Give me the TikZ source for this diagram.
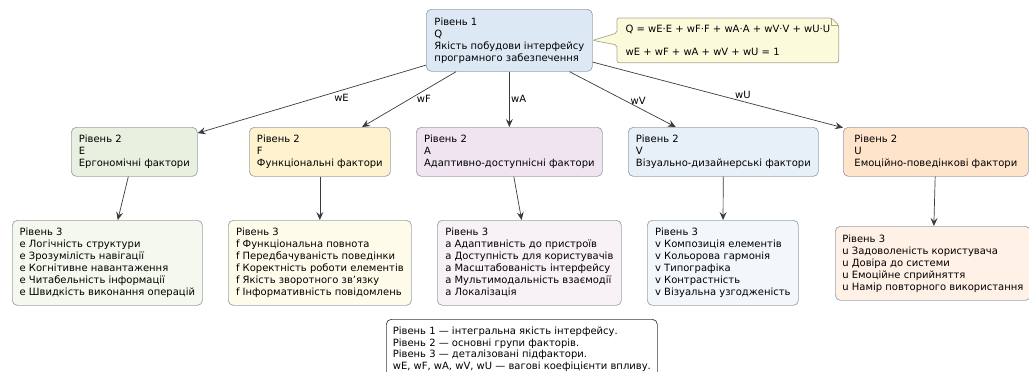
\documentclass[tikz,border=0pt]{standalone}
\usepackage{fontspec}
\setmainfont{DejaVu Sans}
\usetikzlibrary{arrows.meta,calc,backgrounds}

\definecolor{boxline}{HTML}{9AA2AA}
\definecolor{arrowline}{HTML}{3A3A3A}
\definecolor{noteline}{HTML}{A8A88A}
\definecolor{notefill}{HTML}{FBFBDC}
\definecolor{rootfill}{HTML}{DDE8F5}
\definecolor{efill}{HTML}{E8F1E0}
\definecolor{ffill}{HTML}{FEF3CE}
\definecolor{afill}{HTML}{F0E4F0}
\definecolor{vfill}{HTML}{E7EFF8}
\definecolor{ufill}{HTML}{FFE4CC}
\definecolor{esubfill}{HTML}{F4F8EF}
\definecolor{fsubfill}{HTML}{FFFBEB}
\definecolor{asubfill}{HTML}{F8F1F6}
\definecolor{vsubfill}{HTML}{F2F7FC}
\definecolor{usubfill}{HTML}{FFF1E6}

\tikzset{
  box/.style={draw=boxline, line width=0.7pt, rounded corners=5pt, align=left,
    anchor=north west, inner xsep=7pt, inner ysep=0pt, font=\fontsize{10}{12}\selectfont},
  flow/.style={draw=arrowline, line width=0.7pt, -{Stealth[length=8pt,width=7pt,inset=3pt]}},
  wlabel/.style={font=\fontsize{10}{12}\selectfont, inner sep=1.5pt}
}

\begin{document}
\begin{tikzpicture}[x=1pt,y=-1pt]
  \clip (0,0) rectangle (1029,372);

  \node[box, fill=rootfill, minimum width=166pt, minimum height=62pt] (root) at (426,9)
    {Рівень 1\\Q\\Якість побудови інтерфейсу\\програмного забезпечення};

  \node[box, draw=none, minimum width=221pt, minimum height=44pt] (note) at (617,18)
    {Q = wE·E + wF·F + wA·A + wV·V + wU·U\\[11pt]wE + wF + wA + wV + wU = 1};
  \begin{scope}[on background layer]
    \draw[draw=noteline, fill=notefill, line width=0.7pt, rounded corners=2pt]
      (note.north west) -- ($(note.north east)+(-7,0)$) -- ($(note.north east)+(0,7)$)
      -- (note.south east) -- (note.south west) -- ($(note.north west)+(0,27)$)
      -- (root.east) -- ($(note.north west)+(0,15)$) -- cycle;
    \draw[draw=noteline, line width=0.7pt] ($(note.north east)+(-7,0)$) |- ($(note.north east)+(0,7)$);
  \end{scope}

  \node[box, fill=efill, minimum width=126pt, minimum height=49pt] (E) at (71,127)
    {Рівень 2\\E\\Ергономічні фактори};
  \node[box, fill=ffill, minimum width=141pt, minimum height=49pt] (F) at (249,127)
    {Рівень 2\\F\\Функціональні фактори};
  \node[box, fill=afill, minimum width=186pt, minimum height=49pt] (A) at (416,127)
    {Рівень 2\\A\\Адаптивно-доступнісні фактори};
  \node[box, fill=vfill, minimum width=190pt, minimum height=49pt] (V) at (628,127)
    {Рівень 2\\V\\Візуально-дизайнерські фактори};
  \node[box, fill=ufill, minimum width=185pt, minimum height=49pt] (U) at (843,127)
    {Рівень 2\\U\\Емоційно-поведінкові фактори};

  \node[box, fill=esubfill, minimum width=190pt, minimum height=85pt] (Esub) at (12,220)
    {Рівень 3\\e Логічність структури\\e Зрозумілість навігації\\e Когнітивне навантаження\\e Читабельність інформації\\e Швидкість виконання операцій};
  \node[box, fill=fsubfill, minimum width=183pt, minimum height=85pt] (Fsub) at (228,220)
    {Рівень 3\\f Функціональна повнота\\f Передбачуваність поведінки\\f Коректність роботи елементів\\f Якість зворотного зв’язку\\f Інформативність повідомлень};
  \node[box, fill=asubfill, minimum width=184pt, minimum height=85pt] (Asub) at (437,220)
    {Рівень 3\\a Адаптивність до пристроїв\\a Доступність для користувачів\\a Масштабованість інтерфейсу\\a Мультимодальність взаємодії\\a Локалізація};
  \node[box, fill=vsubfill, minimum width=151pt, minimum height=85pt] (Vsub) at (647,220)
    {Рівень 3\\v Композиція елементів\\v Кольорова гармонія\\v Типографіка\\v Контрастність\\v Візуальна узгодженість};
  \node[box, fill=usubfill, minimum width=193pt, minimum height=74pt] (Usub) at (835,226)
    {Рівень 3\\u Задоволеність користувача\\u Довіра до системи\\u Емоційне сприйняття\\u Намір повторного використання};

  \draw[flow] (root) -- node[wlabel, pos=.37, anchor=north, yshift=-2pt] {wE} (E);
  \draw[flow] (root) -- node[wlabel, pos=.5, anchor=west, xshift=6pt] {wF} (F);
  \draw[flow] (root) -- node[wlabel, pos=.5, anchor=west] {wA} (A);
  \draw[flow] (root) -- node[wlabel, pos=.52, anchor=west, xshift=4pt] {wV} (V);
  \draw[flow] (root) -- node[wlabel, pos=.6, anchor=south, yshift=1pt] {wU} (U);

  \draw[flow] (E) -- (Esub);
  \draw[flow] (F) -- (Fsub);
  \draw[flow] (A) -- (Asub);
  \draw[flow] (V) -- (Vsub);
  \draw[flow] (U) -- (Usub);

  \node[box, draw=arrowline, fill=white, minimum width=271pt, inner xsep=5pt, inner ysep=8pt,
    font=\fontsize{10}{11.5}\selectfont] (legend) at (386,319)
    {Рівень 1 — інтегральна якість інтерфейсу.\\Рівень 2 — основні групи факторів.\\Рівень 3 — деталізовані підфактори.\\wE, wF, wA, wV, wU — вагові коефіцієнти впливу.};
\end{tikzpicture}
\end{document}
